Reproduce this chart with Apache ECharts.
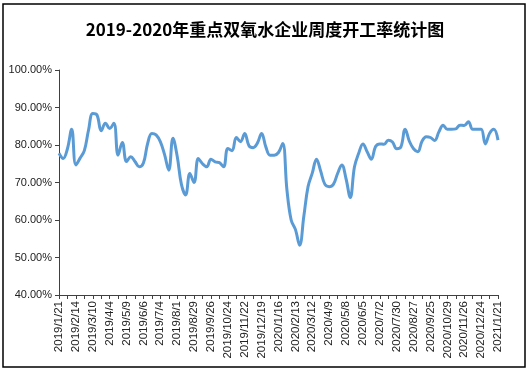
<!DOCTYPE html>
<html>
<head>
<meta charset="utf-8">
<script src="https://cdn.jsdelivr.net/npm/echarts@6/dist/echarts.min.js"></script>
<style>
html,body{margin:0;padding:0;background:#fff;}
#c{width:530px;height:372px;}
</style>
</head>
<body>
<div id="c"></div>
<script>
var titleText = '2019-2020年重点双氧水企业周度开工率统计图';

var categories = [
'2019/1/21','2019/1/28','2019/2/1','2019/2/8',
'2019/2/14','2019/2/21','2019/2/28','2019/3/4',
'2019/3/10','2019/3/15','2019/3/22','2019/3/29',
'2019/4/4','2019/4/12','2019/4/19','2019/4/26',
'2019/5/9','2019/5/16','2019/5/23','2019/5/30',
'2019/6/6','2019/6/13','2019/6/20','2019/6/27',
'2019/7/4','2019/7/11','2019/7/18','2019/7/25',
'2019/8/1','2019/8/8','2019/8/15','2019/8/22',
'2019/8/29','2019/9/5','2019/9/12','2019/9/19',
'2019/9/26','2019/10/3','2019/10/10','2019/10/17',
'2019/10/24','2019/10/31','2019/11/7','2019/11/14',
'2019/11/22','2019/11/28','2019/12/5','2019/12/12',
'2019/12/19','2019/12/26','2020/1/2','2020/1/9',
'2020/1/16','2020/1/23','2020/1/30','2020/2/6',
'2020/2/13','2020/2/20','2020/2/27','2020/3/5',
'2020/3/12','2020/3/19','2020/3/26','2020/4/2',
'2020/4/9','2020/4/16','2020/4/23','2020/4/30',
'2020/5/8','2020/5/15','2020/5/22','2020/5/29',
'2020/6/5','2020/6/12','2020/6/19','2020/6/24',
'2020/7/2','2020/7/9','2020/7/16','2020/7/23',
'2020/7/30','2020/8/6','2020/8/13','2020/8/20',
'2020/8/27','2020/9/3','2020/9/10','2020/9/17',
'2020/9/25','2020/10/9','2020/10/15','2020/10/22',
'2020/10/29','2020/11/5','2020/11/12','2020/11/19',
'2020/11/26','2020/12/3','2020/12/10','2020/12/17',
'2020/12/24','2020/12/31','2021/1/7','2021/1/14',
'2021/1/21'
];

var rates = [
77.8,76.4,79.0,84.2,74.7,76.5,78.5,84.0,88.4,88.0,
83.8,85.8,84.4,85.8,77.3,80.7,75.6,76.9,75.6,74.2,
75.2,80.4,83.1,82.7,80.9,77.5,73.3,81.8,77.0,69.5,
66.7,72.4,70.0,76.4,75.0,74.2,76.2,75.5,75.3,74.2,
79.1,78.5,82.0,80.9,83.1,79.8,79.3,80.5,83.1,79.5,
77.3,77.3,78.0,80.4,68.0,60.0,57.5,53.3,61.0,68.9,
72.5,76.2,73.0,69.5,68.9,69.5,72.4,74.7,71.0,66.0,
74.2,77.8,80.3,78.2,76.2,79.6,80.3,80.2,81.3,80.8,
79.0,79.5,84.2,81.0,79.0,78.2,81.0,82.2,82.0,81.2,
83.5,85.3,84.2,84.2,84.3,85.3,85.2,86.2,84.2,84.2,
84.2,80.3,83.1,84.2,81.3
];

var yMin = 40, yMax = 100, yStep = 10;

var chart = echarts.init(document.getElementById('c'), null, {renderer:'canvas'});
chart.setOption({
  animation: false,
  backgroundColor: '#fff',
  title: {
    text: titleText,
    left: 'center',
    top: 16,
    textStyle: {fontSize: 17, fontWeight: 'bold', color: '#000', fontFamily: 'Noto Sans CJK SC'}
  },
  graphic: [{
    type: 'rect',
    shape: {x: 3, y: 4, width: 522, height: 363},
    style: {fill: 'none', stroke: '#000', lineWidth: 1.5},
    silent: true
  }],
  grid: {left: 59, right: 32, top: 70, bottom: 77, containLabel: false},
  xAxis: {
    type: 'category',
    data: categories,
    boundaryGap: false,
    axisLine: {lineStyle: {color: '#404040', width: 1}},
    axisTick: {show: true, interval: 1, length: 4, lineStyle: {color: '#404040'}},
    axisLabel: {interval: 3, rotate: 90, margin: 6, fontSize: 11.5, color: '#222', fontFamily: 'Liberation Sans'},
    splitLine: {show: false}
  },
  yAxis: {
    type: 'value',
    min: yMin, max: yMax, interval: yStep,
    axisLine: {show: true, lineStyle: {color: '#404040', width: 1}},
    axisTick: {show: true, length: 4, lineStyle: {color: '#404040'}},
    axisLabel: {margin: 7, fontSize: 11, color: '#222', fontFamily: 'Liberation Sans',
      formatter: function(v){ return v.toFixed(2) + '%'; }},
    splitLine: {show: false}
  },
  series: [{
    type: 'line',
    data: rates,
    smooth: 0.4,
    showSymbol: false,
    lineStyle: {color: '#5B9BD5', width: 3}
  }]
});
</script>
</body>
</html>
